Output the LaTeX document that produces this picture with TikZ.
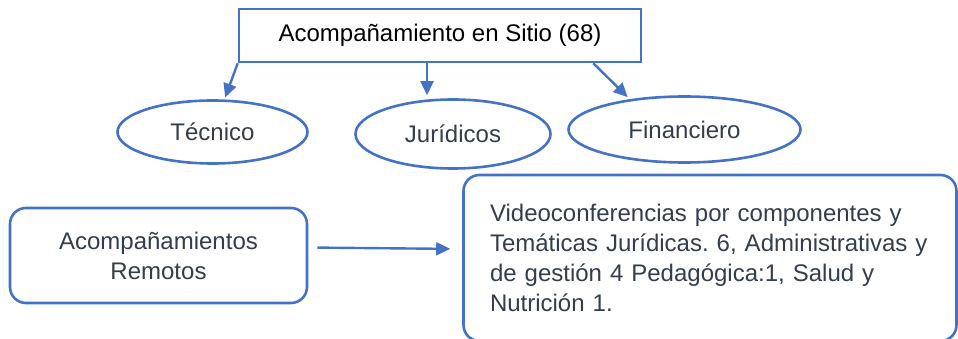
\documentclass[tikz,border=0pt]{standalone}
\usepackage{fontspec}
\setmainfont{Liberation Sans}
\usetikzlibrary{shapes.geometric,arrows.meta}

\definecolor{azul}{HTML}{4472C4}
\definecolor{pizarra}{HTML}{333D4D}
\frenchspacing

\begin{document}
\begin{tikzpicture}[x=1pt, y=-1pt,
		font=\fontsize{24}{30}\selectfont,
		caja/.style={draw=azul, line width=2.6pt, inner sep=0pt},
		elipse/.style={caja, ellipse, text=pizarra},
		redondo/.style={caja, rounded corners=16pt, text=pizarra},
		flecha/.style={draw=azul, line width=2.4pt, -{Triangle[length=14pt,width=13pt]}}]
			\useasboundingbox (0,0) rectangle (958,339);

			\node[caja, minimum width=402pt, minimum height=53pt] (sitio) at (440,35.5) {Acompañamiento en Sitio (68)};
			\node[elipse, minimum width=190pt, minimum height=63pt] (tec) at (212.5,132) {\raisebox{-3pt}{Técnico}};
			\node[elipse, minimum width=195pt, minimum height=69pt] (jur) at (453,134) {Jurídicos};
			\node[elipse, minimum width=232pt, minimum height=66pt] (fin) at (684.5,129.5) {Financiero};

			\node[redondo, minimum width=297pt, minimum height=95pt, align=center] (rem) at (158.5,255.5) {Acompañamientos\\Remotos};
			\node[redondo, minimum width=493pt, minimum height=166pt, text width=440pt, align=left] (vid) at (710,258)
				{Videoconferencias por componentes y\\Temáticas Jurídicas. 6, Administrativas y\\de gestión 4 Pedagógica:1, Salud y\\Nutrición 1.};

			\draw[flecha, shorten >=2pt] (sitio.south west) -- (tec);
			\draw[flecha, shorten >=3pt] ([xshift=-13pt]sitio.south) -- ([xshift=-13pt]sitio.south |- jur.north);
			\draw[flecha, shorten >=3pt] ([xshift=-49pt]sitio.south east) -- (fin.151);
			\draw[flecha, shorten <=9pt, shorten >=12pt] ([yshift=8pt]rem.east) -- ([yshift=9pt]vid.west);
		\end{tikzpicture}
\end{document}
